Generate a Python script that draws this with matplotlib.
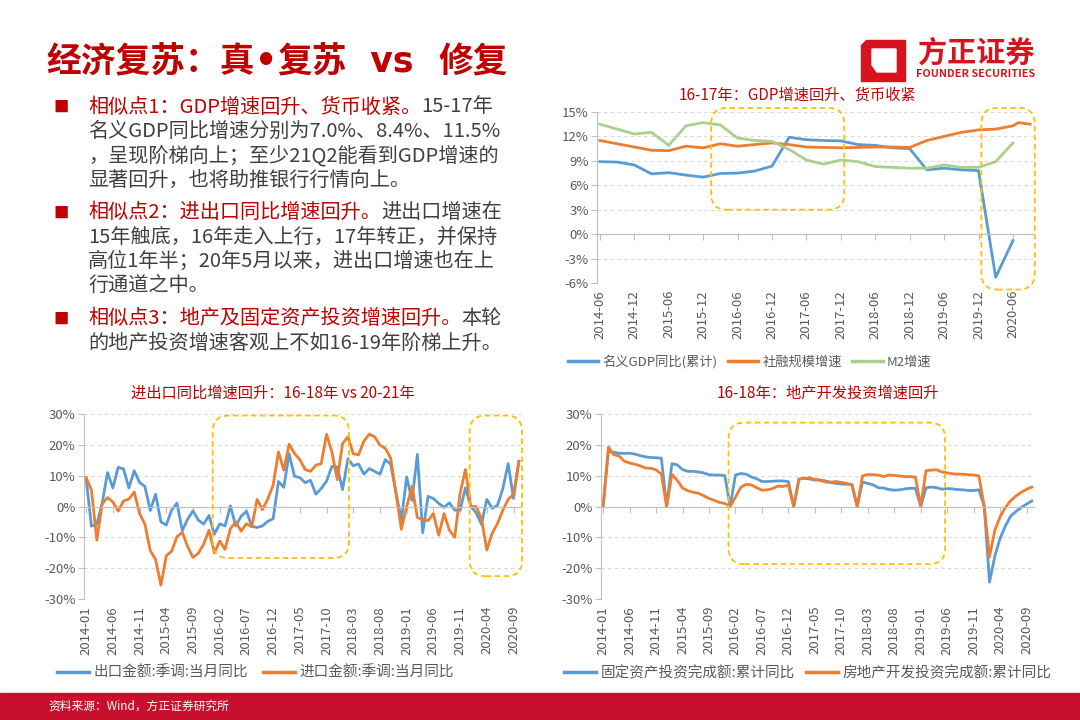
import numpy as np
import pandas as pd
import matplotlib
matplotlib.use("Agg")
import matplotlib.pyplot as plt
from matplotlib.patches import FancyBboxPatch, Rectangle, Polygon
from matplotlib.lines import Line2D

plt.rcParams['font.family'] = ['Noto Sans CJK SC', 'DejaVu Sans']
plt.rcParams['axes.unicode_minus'] = False

RED = '#C00000'
GRAY = '#404040'
TICK = '#595959'
BLUE = '#5B9BD5'
ORANGE = '#ED7D31'
GREEN = '#A9D18E'
BOX = '#FFC000'
LOGO = '#D7141E'

# ---- 16-17年: GDP / 社融 / M2 (quarterly, months counted from 2014-06)
q_dates = ['2014-06', '2014-09', '2014-12', '2015-03', '2015-06', '2015-09', '2015-12',
           '2016-03', '2016-06', '2016-09', '2016-12', '2017-03', '2017-06', '2017-09',
           '2017-12', '2018-03', '2018-06', '2018-09', '2018-12', '2019-03', '2019-06',
           '2019-09', '2019-12', '2020-03', '2020-06']
gdp = [8.9, 8.85, 8.5, 7.4, 7.55, 7.25, 7.0, 7.45, 7.5, 7.75, 8.35, 11.9, 11.6, 11.5,
       11.45, 11.0, 10.9, 10.6, 10.5, 7.9, 8.1, 7.9, 7.8, -5.3, -0.8]
m2 = [13.5, 12.9, 12.3, 12.5, 10.9, 13.3, 13.7, 13.4, 11.8, 11.5, 11.4, 10.4, 9.1, 8.6,
      9.1, 8.9, 8.3, 8.2, 8.1, 8.1, 8.5, 8.2, 8.2, 8.9, 11.2]
sf_dates = q_dates + ['2020-07', '2020-09']
sf = [11.5, 11.1, 10.7, 10.3, 10.25, 10.8, 10.6, 11.1, 10.8, 11.0, 11.2, 11.0, 10.7,
      10.65, 10.6, 10.65, 10.7, 10.7, 10.65, 11.5, 12.0, 12.5, 12.8, 12.9, 13.3, 13.7, 13.5]
top_ticks = ['2014-06', '2014-12', '2015-06', '2015-12', '2016-06', '2016-12', '2017-06',
             '2017-12', '2018-06', '2018-12', '2019-06', '2019-12', '2020-06']

# ---- 进出口 (monthly 2014-01 .. 2020-10)
months = pd.period_range('2014-01', '2020-10', freq='M').strftime('%Y-%m').tolist()
export = [9, -6.4, -5.7, 1, 11, 6, 12.7, 12.2, 6, 11.6, 7.8, 6.5,
          -1.3, 4, -5, -6, -1.2, 1.1, -7.8, -4.1, -1.4, -4.4, -5.7, -2.9,
          -9, -5.6, -6.3, 0.2, -6.3, -3.2, -1.5, -6.4, -6.8, -6.3, -4.8, -4,
          8.1, 6.2, 17.1, 9.8, 9.4, 7.7, 8.5, 4, 5.8, 8.2, 13, 12.8,
          5.5, 15.5, 13.2, 13.8, 10.5, 12.3, 11.4, 10.5, 15.2, 13.7, 4.5, -4.4,
          9.6, 2, 16.9, -8.5, 3.3, 2.6, 1, -0.3, 1.2, -1.2, -1.2, 6.1,
          0, -2, -5.8, 2.3, -0.6, 0.4, 5.8, 13.9, 2.6, 14.7]
imports = [9.4, 5.3, -10.9, 0.8, 2.9, 1.5, -1.5, 1.8, 2.4, 4.7, -2.3, -5.7,
           -14.3, -17.2, -25.5, -16, -14.5, -9.8, -8.4, -13, -16.5, -15.2, -12.2, -7.7,
           -15, -11.2, -13.9, -7.2, -5, -8, -5.6, -6.6, 2.3, -1, 2.4, 6.9,
           17.7, 11.8, 20.2, 17.2, 15.2, 12, 11.4, 13.4, 13.9, 23.4, 17.7, 8.7,
           20.4, 22.6, 17.1, 16.8, 21.2, 23.5, 22.6, 19.9, 18.9, 15.7, 4.2, -7.4,
           -0.1, 6.6, -3.6, -4.2, -4.6, -2.3, -9.3, -2.3, -7.7, -10, 4.2, 12,
           0, 0, -3.9, -14.1, -8.7, -5.5, -1.2, 2.3, 3.9, 14.5]

# ---- 固定资产投资 / 房地产开发投资 累计同比 (monthly, Jan shown as 0)
fai = [0, 17.9, 17.6, 17.3, 17.2, 17.3, 17.0, 16.5, 16.1, 15.9, 15.8, 15.7,
       0, 13.9, 13.5, 12.0, 11.4, 11.4, 11.2, 10.9, 10.3, 10.2, 10.2, 10.0,
       0, 10.2, 10.7, 10.5, 9.6, 9.0, 8.1, 8.1, 8.2, 8.3, 8.3, 8.1,
       0, 8.9, 9.2, 8.9, 8.6, 8.6, 8.3, 7.8, 7.5, 7.3, 7.2, 7.2,
       0, 7.9, 7.5, 7.0, 6.1, 6.0, 5.5, 5.3, 5.4, 5.7, 5.9, 5.9,
       0, 6.1, 6.3, 6.1, 5.6, 5.8, 5.7, 5.5, 5.4, 5.2, 5.2, 5.4,
       0, -24.5, -16.1, -10.3, -6.3, -3.1, -1.6, -0.3, 0.8, 1.8]
reinv = [0, 19.3, 16.8, 16.4, 14.7, 14.1, 13.7, 13.2, 12.5, 12.4, 11.9, 10.5,
         0, 10.4, 8.5, 6.0, 5.1, 4.6, 4.3, 3.5, 2.6, 2.0, 1.3, 1.0,
         0, 3.0, 6.2, 7.2, 7.0, 6.1, 5.3, 5.4, 5.8, 6.6, 6.5, 6.9,
         0, 8.9, 9.1, 9.3, 8.8, 8.5, 7.9, 7.9, 8.1, 7.8, 7.5, 7.0,
         0, 9.9, 10.4, 10.3, 10.2, 9.7, 10.2, 10.1, 9.9, 9.7, 9.7, 9.5,
         0, 11.6, 11.8, 11.9, 11.2, 10.9, 10.6, 10.5, 10.5, 10.3, 10.2, 9.9,
         0, -16.3, -7.7, -3.3, -0.3, 1.9, 3.4, 4.6, 5.6, 6.3]


def month_idx(dates, start):
    p0 = pd.Period(start, 'M')
    return [(pd.Period(d, 'M') - p0).n for d in dates]


W, H = 1080, 720
fig = plt.figure(figsize=(W / 100, H / 100), dpi=100)
renderer = fig.canvas.get_renderer()


def fx(x):
    return x / W


def fy(y):
    return 1 - y / H


def add_ax(l, t, r, b):
    ax = fig.add_axes([fx(l), fy(b), fx(r - l), (b - t) / H])
    ax.px = (r - l, b - t)
    return ax


def style(ax, xlim, ylim, yticks, xticks, xlabels):
    ax.set_xlim(xlim)
    ax.set_ylim(ylim)
    ax.set_yticks(yticks)
    ax.set_yticklabels([f'{v}%' for v in yticks])
    ax.grid(axis='y', ls=(0, (3, 3)), color='#D9D9D9', lw=0.8)
    ax.set_axisbelow(True)
    for s in ['top', 'right']:
        ax.spines[s].set_visible(False)
    ax.spines['left'].set_color('#BFBFBF')
    ax.spines['bottom'].set_color('#BFBFBF')
    ax.spines['bottom'].set_position(('data', 0))
    ax.set_xticks(xticks)
    ax.tick_params(axis='x', length=4, color='#BFBFBF', labelbottom=False)
    ax.tick_params(axis='y', length=4, color='#BFBFBF', labelsize=9.5, labelcolor=TICK, pad=2)
    sec = ax.secondary_xaxis('bottom')
    sec.set_xticks(xticks)
    sec.set_xticklabels(xlabels, rotation=90)
    sec.tick_params(length=0, labelsize=9.5, labelcolor=TICK, pad=5)
    sec.spines['bottom'].set_visible(False)


def dashed_box(ax, x0, x1, y0, y1, r_px=16):
    xl, yl = ax.get_xlim(), ax.get_ylim()
    xu = (xl[1] - xl[0]) / ax.px[0]
    yu = (yl[1] - yl[0]) / ax.px[1]
    p = FancyBboxPatch((x0, y0), x1 - x0, y1 - y0,
                       boxstyle=f'round,pad=0,rounding_size={r_px * xu}',
                       mutation_aspect=yu / xu, fill=False, ec=BOX, lw=1.3,
                       ls=(0, (3, 2)), clip_on=False, zorder=4)
    ax.add_patch(p)


def rich(x, y, parts, **kw):
    # parts: (text, colour, family or None)
    for s, c, fam in parts:
        extra = {'family': fam} if fam else {}
        t = fig.text(fx(x), fy(y), s, color=c, ha='left', va='center', **kw, **extra)
        x += t.get_window_extent(renderer).width
    return x


# ================= top-right chart
ax1 = add_ax(597, 112, 1033, 283)
ax1.plot(month_idx(q_dates, '2014-06'), gdp, color=BLUE, lw=2)
ax1.plot(month_idx(sf_dates, '2014-06'), sf, color=ORANGE, lw=2)
ax1.plot(month_idx(q_dates, '2014-06'), m2, color=GREEN, lw=2)
style(ax1, (-0.5, 75.5), (-6, 15), list(range(-6, 16, 3)),
      month_idx(top_ticks, '2014-06'), top_ticks)
dashed_box(ax1, 19.4, 42.6, 3.0, 15.5)
dashed_box(ax1, 66.5, 75.8, -6.8, 15.5)
fig.text(fx(797), fy(95), '16-17年：GDP增速回升、货币收紧', color=RED, fontsize=11,
         ha='center', va='center')
h1 = [Line2D([], [], color=c, lw=2.5) for c in (BLUE, ORANGE, GREEN)]
fig.legend(h1, ['名义GDP同比(累计)', '社融规模增速', 'M2增速'], loc='center left',
           bbox_to_anchor=(fx(568), fy(362)), ncol=3, frameon=False, fontsize=9.5,
           handlelength=2.3, handletextpad=0.3, columnspacing=0.8, labelcolor=TICK,
           borderpad=0, borderaxespad=0)

# ================= bottom-left chart
mi = list(range(len(months)))
bticks = mi[::5]
blabels = months[::5]
ax2 = add_ax(84, 414, 521, 599)
ax2.plot(mi, export, color=BLUE, lw=2)
ax2.plot(mi, imports, color=ORANGE, lw=2)
style(ax2, (-0.4, 81.4), (-30, 30), list(range(-30, 31, 10)), bticks, blabels)
dashed_box(ax2, 23.7, 49.2, -16.7, 29.5)
dashed_box(ax2, 71.8, 81.6, -22.6, 29.5)
fig.text(fx(273), fy(393), '进出口同比增速回升：16-18年 vs 20-21年', color=RED,
         fontsize=11, ha='center', va='center')
h2 = [Line2D([], [], color=c, lw=2.5) for c in (BLUE, ORANGE)]
fig.legend(h2, ['出口金额:季调:当月同比', '进口金额:季调:当月同比'], loc='center left',
           bbox_to_anchor=(fx(57), fy(673)), ncol=2, frameon=False, fontsize=10.5,
           handlelength=2.2, handletextpad=0.3, columnspacing=1.0, labelcolor=TICK,
           borderpad=0, borderaxespad=0)

# ================= bottom-right chart
ax3 = add_ax(601, 414, 1034, 599)
ax3.plot(mi, fai, color=BLUE, lw=2)
ax3.plot(mi, reinv, color=ORANGE, lw=2)
style(ax3, (-0.4, 81.4), (-30, 30), list(range(-30, 31, 10)), bticks, blabels)
dashed_box(ax3, 23.7, 64.6, -18.7, 27.2)
fig.text(fx(828), fy(393), '16-18年：地产开发投资增速回升', color=RED, fontsize=11,
         ha='center', va='center')
fig.legend(h2, ['固定资产投资完成额:累计同比', '房地产开发投资完成额:累计同比'],
           loc='center left', bbox_to_anchor=(fx(564), fy(673)), ncol=2, frameon=False,
           fontsize=10.5, handlelength=2.2, handletextpad=0.3, columnspacing=0.8,
           labelcolor=TICK, borderpad=0, borderaxespad=0)

# ================= title, logo, bullet text
rich(46, 62, [('经济复苏：真', RED, None), ('•', RED, 'DejaVu Sans'),
              ('复苏', RED, None), ('  vs  ', RED, 'DejaVu Sans'), ('修复', RED, None)],
     fontsize=25, fontweight='bold')

fig.add_artist(Polygon([(fx(866), fy(40)), (fx(905), fy(40)), (fx(905), fy(81)),
                        (fx(861), fy(81)), (fx(861), fy(45))], closed=True,
                       transform=fig.transFigure, color=LOGO))
fig.add_artist(Polygon([(fx(872), fy(49)), (fx(896), fy(49)), (fx(896), fy(72)),
                        (fx(877), fy(72)), (fx(872), fy(65))], closed=True,
                       transform=fig.transFigure, color='white'))
fig.text(fx(976), fy(53), '方正证券', color=LOGO, fontsize=21, fontweight='bold',
         ha='center', va='center')
fig.text(fx(976), fy(74), 'FOUNDER SECURITIES', color=LOGO, fontsize=7.8,
         fontweight='bold', ha='center', va='center')

body = [
    [[('相似点1：GDP增速回升、货币收紧。', RED, None), ('15-17年', GRAY, None)],
     [('名义GDP同比增速分别为7.0%、8.4%、11.5%', GRAY, None)],
     [('，呈现阶梯向上；至少21Q2能看到GDP增速的', GRAY, None)],
     [('显著回升，也将助推银行行情向上。', GRAY, None)]],
    [[('相似点2：进出口同比增速回升。', RED, None), ('进出口增速在', GRAY, None)],
     [('15年触底，16年走入上行，17年转正，并保持', GRAY, None)],
     [('高位1年半；20年5月以来，进出口增速也在上', GRAY, None)],
     [('行通道之中。', GRAY, None)]],
    [[('相似点3：地产及固定资产投资增速回升。', RED, None), ('本轮', GRAY, None)],
     [('的地产投资增速客观上不如16-19年阶梯上升。', GRAY, None)]],
]
y = 107
for para in body:
    fig.text(fx(61), fy(y), '■', color=RED, fontsize=11, ha='center', va='center')
    for line in para:
        rich(88, y, line, fontsize=14.5)
        y += 24.3
    y += 8.7

# ================= footer
fig.add_artist(Rectangle((0, 0), 1, 27 / H, transform=fig.transFigure,
                         color='#C8102E', zorder=0))
fig.text(fx(48), fy(706), '资料来源：Wind，方正证券研究所', color='white', fontsize=8.5,
         style='italic', ha='left', va='center')

fig.savefig('out.png', dpi=100)
